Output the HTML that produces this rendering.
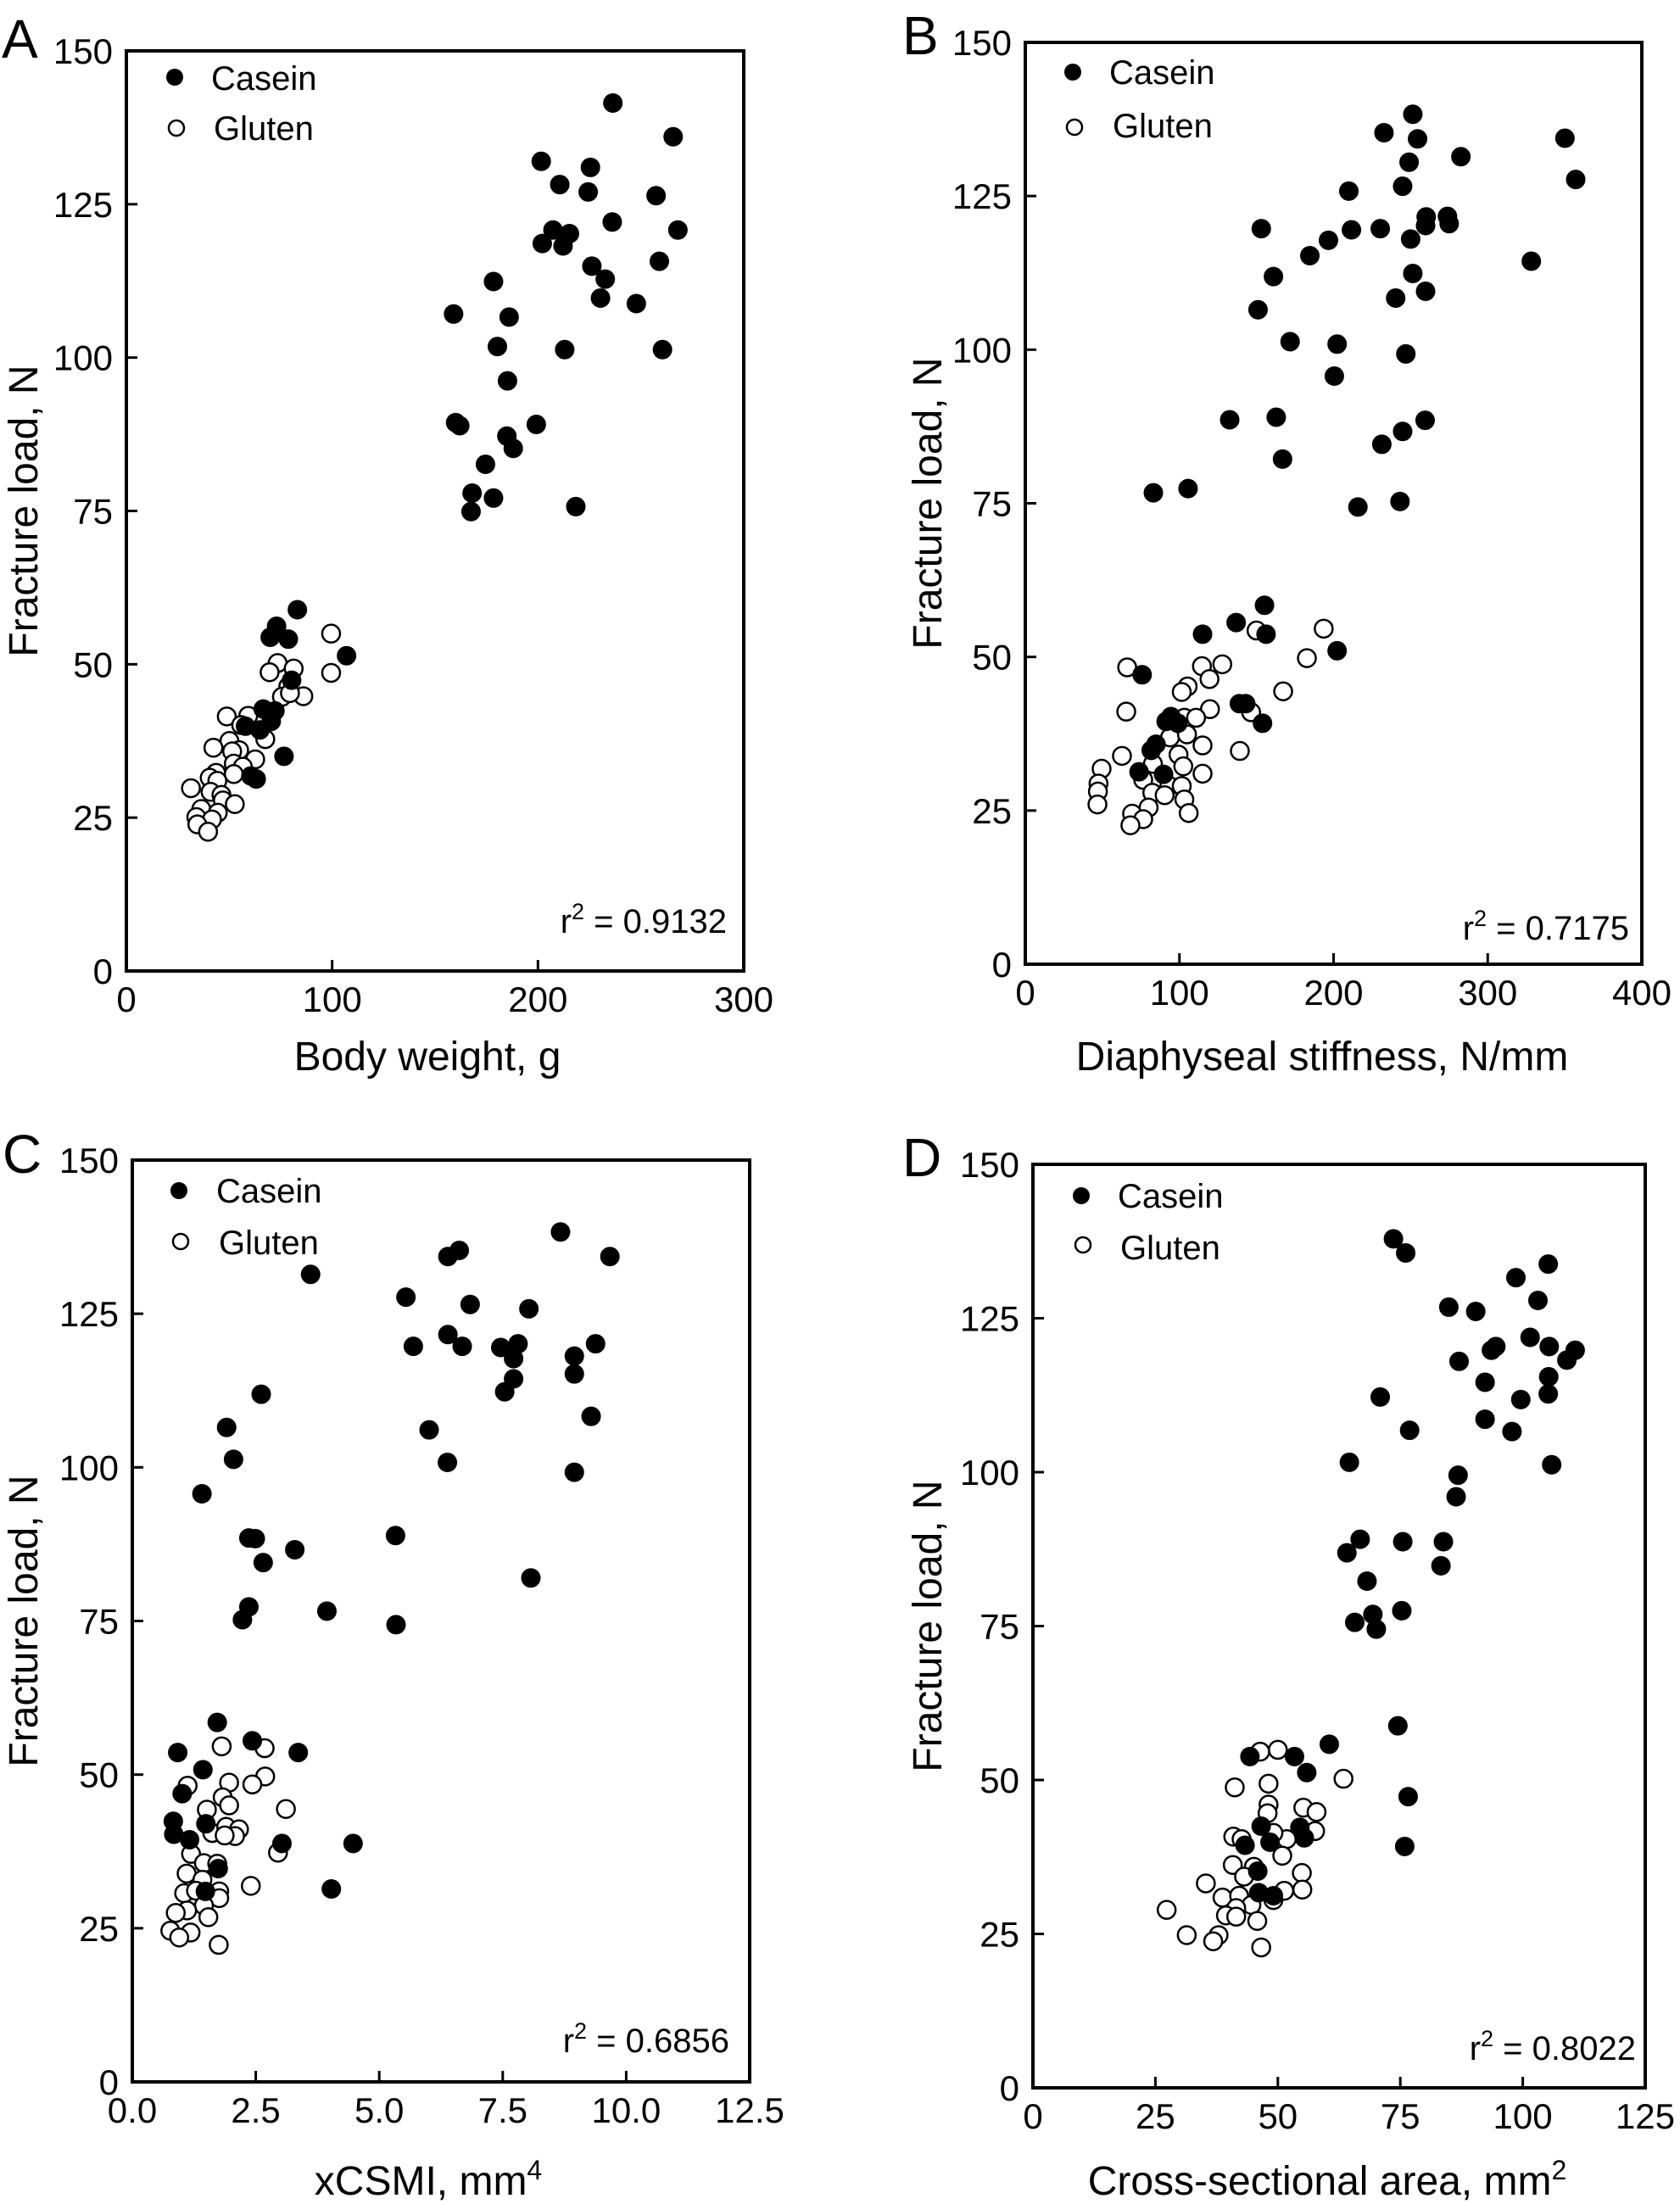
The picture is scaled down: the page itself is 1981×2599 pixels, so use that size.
<!DOCTYPE html>
<html><head><meta charset="utf-8"><style>
html,body{margin:0;padding:0;background:#fff;}
svg{display:block;font-family:"Liberation Sans",Arial,sans-serif;}
</style></head><body>
<svg id="fig" width="1981" height="2599" viewBox="0 0 1981 2599" xmlns="http://www.w3.org/2000/svg"></svg>
<script>
// ---------- Panel A data ----------
const aCaseinX=[236.4,265.7,201.6,225.5,210.6,224.4,257.4,236.1,268,207.3,215.3,202.1,212.2,259,226.2,232.7,178.4,230.4,247.8,159,186,180.3,213,260.5,185.2,160,162,199.2,184.9,188,174.5,168,178.4,167.5,218.4,83.1,73,69.9,78.7,107,80.3,66.5,72.2,70.4,57.9,64.9,76.6,60.5,63.1];
const aCaseinY=[141.5,136,132,131,128.2,127,126.4,122.1,120.8,120.8,120.2,118.6,118.2,115.7,114.9,112.8,112.4,109.7,108.8,107.1,106.6,101.8,101.3,101.3,96.2,89.4,88.9,89.1,87.2,85.2,82.6,77.9,77.1,74.9,75.7,58.9,56.2,54.4,54.1,51.4,47.4,42.7,42.4,40.7,39.9,39.3,35,31.8,31.3];
const aGlutenX=[99.5,73.5,81.3,69.6,99.5,78.7,86,75.6,79.5,48.8,59.2,55.8,67.5,50.1,42.3,54.8,51.4,62.6,52.2,56.6,43.6,52.2,40.5,44.2,31.4,40.9,46.2,46.9,52.7,36.4,44.4,34,41.6,34.5,39.7];
const aGlutenY=[55,50.2,49.3,48.7,48.6,46.4,44.8,44.7,45.3,41.5,41.6,40.1,37.8,37.5,36.4,36,35.8,34.5,33.8,33.3,32.3,32.1,31.5,31,29.8,29.2,28.7,27.8,27.2,26.4,25.8,25.1,24.7,23.9,22.7];
const aXTicks=[0,100,200,300];
const aXTickLabels=["0","100","200","300"];
// ---------- Panel B data ----------
const bCaseinX=[251.4,232.7,350.1,254.5,282.6,249,357.1,244.8,209.9,273.9,260.1,153.1,211.6,230.3,275,259.7,196.7,250,184.6,328.3,161,251.4,240.3,259.7,151,171.8,202.3,246.9,200.5,132.6,162.8,259.4,244.8,231.3,166.9,83.1,105.6,215.8,243.1,155.2,136.8,115,156.2,202.3,75.8,138.9,143,91.4,94.5,99,153.9,84.8,81.7,73.8,89.7];
const bCaseinY=[138.3,135.3,134.4,134.3,131.4,130.5,127.7,126.6,125.8,121.7,121.6,119.7,119.5,119.7,120.5,120.2,117.8,118,115.3,114.4,111.9,112.4,108.4,109.5,106.5,101.3,100.9,99.3,95.7,88.6,89,88.5,86.7,84.6,82.2,76.7,77.4,74.4,75.3,58.4,55.6,53.7,53.7,51,47.1,42.4,42.4,39.5,40.3,39.2,39.2,35.8,34.8,31.3,30.9];
const bGlutenX=[193.6,150,66.1,127.8,114.6,182.7,119.5,105.3,101.5,167.3,119.8,65.5,146.5,103.2,110.8,93.9,115,104.9,62.7,139.2,99.4,82.8,102.5,49.5,115,76.5,47.5,93.5,101.5,47.1,82.4,90.4,103.2,46.8,80,69.3,106,76.5,68.2];
const bGlutenY=[54.6,54.3,48.3,48.8,48.5,49.8,46.4,45.2,44.3,44.4,41.5,41.1,41,40.1,40.1,36.9,35.6,37.4,33.9,34.7,34.1,32.6,32.2,31.8,31,30,29.4,29,29,28.1,27.9,27.5,26.8,26,25.5,24.5,24.6,23.6,22.6];
const bXTicks=[0,100,200,300,400];
const bXTickLabels=["0","100","200","300","400"];
// ---------- Panel C data ----------
const cCaseinX=[8.67,6.62,9.67,6.39,3.61,5.54,6.84,8.03,6.39,9.38,5.69,6.68,7.46,7.81,7.72,8.95,8.95,7.72,7.54,2.61,9.29,6.01,1.91,2.05,6.38,8.95,1.41,5.33,2.36,2.49,3.29,2.65,8.07,2.36,3.94,2.23,5.34,1.72,2.43,3.36,0.92,1.43,1.01,0.83,1.49,0.84,1.16,3.03,4.47,1.74,1.48,4.03];
const cCaseinY=[138.3,135.3,134.3,134.3,131.4,127.7,126.5,125.8,121.6,120.1,119.7,119.7,119.5,120.1,117.7,118.1,115.2,114.4,112.3,111.9,108.3,106.1,106.5,101.3,100.8,99.2,95.7,88.9,88.5,88.4,86.6,84.5,82,77.3,76.6,75.2,74.4,58.5,55.5,53.6,53.6,50.8,46.9,42.4,42,40.3,39.4,38.8,38.8,34.7,31,31.4];
const cGlutenX=[1.81,2.68,2.69,1.96,1.12,2.43,1.83,1.96,3.11,1.51,1.62,1.9,2.16,2.08,1.87,2.95,1.19,1.45,1.72,1.1,1.42,2.4,1.76,1.05,1.29,1.76,1.45,1.11,0.88,1.54,0.77,1.18,0.95,1.75];
const cGlutenY=[54.6,54.3,49.7,48.7,48.2,48.4,46.3,45,44.4,44.3,40.5,41.5,41.1,40,40.1,37.3,37.1,35.6,35.5,33.9,32.9,31.9,31,30.7,31.1,29.9,28.7,27.9,27.5,26.8,24.6,24.3,23.5,22.3];
const cXTicks=[0,2.5,5,7.5,10,12.5];
const cXTickLabels=["0.0","2.5","5.0","7.5","10.0","12.5"];
// ---------- Panel D data ----------
const dCaseinX=[73.6,76.1,105.2,98.6,103.1,84.9,90.4,101.5,94.5,93.6,105.4,110.7,87,109,105.3,92.3,70.9,105.2,99.6,92.3,97.8,76.9,64.6,105.9,86.8,86.4,66.8,75.5,83.8,64.1,83.3,68.2,69.4,75.3,65.7,70.1,74.5,60.5,44.3,53.4,55.9,76.6,46.6,54.5,55.4,43.3,48.4,75.9,45.9,46.1,49.1];
const dCaseinY=[137.9,135.6,133.8,131.6,127.9,126.8,126.1,121.9,120.4,119.8,120.4,119.8,118,118.2,115.5,114.6,112.2,112.7,111.8,108.6,106.6,106.8,101.6,101.2,99.5,96,89.1,88.7,88.7,86.9,84.8,82.3,76.9,77.5,75.6,74.5,58.8,55.8,53.8,53.8,51.2,47.3,42.5,42.3,40.6,39.4,39.9,39.2,35.2,31.7,31.2];
const dGlutenX=[50,46.4,63.4,48.1,41.2,48.1,55.2,57.9,47.9,40.9,42.6,51.8,57.6,49.1,50.9,40.8,45.1,43.1,35.3,54.9,55,51.3,38.7,42.1,44.6,41.5,49.1,27.3,39.4,41.5,45.8,31.4,37.9,36.8,46.6];
const dGlutenY=[54.9,54.6,50.2,49.4,48.8,46,45.5,44.8,44.6,40.8,40.4,40.4,41.7,41.4,37.7,36.2,35.9,34.3,33.2,34.9,32.2,32,30.9,31.2,29.7,29.2,30.5,28.9,28,27.8,27.1,24.8,24.8,23.8,22.8];
const dXTicks=[0,25,50,75,100,125];
const dXTickLabels=["0","25","50","75","100","125"];
// ---------- shared y axis ----------
const yTicks=[0,25,50,75,100,125,150];
const yTickLabels=["0","25","50","75","100","125","150"];

const NS="http://www.w3.org/2000/svg";
const svg=document.getElementById('fig');
function mk(tag,attrs,parent){const e=document.createElementNS(NS,tag);for(const k in attrs)e.setAttribute(k,attrs[k]);(parent||svg).appendChild(e);return e;}

const panels=[
 {id:'a',letter:'A',lx:2,ly:68,box:[149,60,877,1145],xmax:300,xt:aXTicks,xl:aXTickLabels,cx:aCaseinX,cy:aCaseinY,gx:aGlutenX,gy:aGlutenY,
  leg:[206,91,249,106,208,151,252,165],r2:'0.9132',r2x:857,r2y:1100,ytx:44,xtitle:'Body weight, g',xtx:504,xty:1262,sup:null},
 {id:'b',letter:'B',lx:1064,ly:64,box:[1209,50,1936,1137],xmax:400,xt:bXTicks,xl:bXTickLabels,cx:bCaseinX,cy:bCaseinY,gx:bGlutenX,gy:bGlutenY,
  leg:[1265,85,1308,99,1267,150,1312,162],r2:'0.7175',r2x:1921,r2y:1108,ytx:1110,xtitle:'Diaphyseal stiffness, N/mm',xtx:1559,xty:1262,sup:null},
 {id:'c',letter:'C',lx:3,ly:1383,box:[156,1368,884,2455],xmax:12.5,xt:cXTicks,xl:cXTickLabels,cx:cCaseinX,cy:cCaseinY,gx:cGlutenX,gy:cGlutenY,
  leg:[211,1404,255,1418,213,1464,258,1479],r2:'0.6856',r2x:860,r2y:2420,ytx:44,xtitle:'xCSMI, mm',xtx:505,xty:2588,sup:'4'},
 {id:'d',letter:'D',lx:1064,ly:1387,box:[1218,1373,1940,2462],xmax:125,xt:dXTicks,xl:dXTickLabels,cx:dCaseinX,cy:dCaseinY,gx:dGlutenX,gy:dGlutenY,
  leg:[1275,1410,1318,1424,1277,1468,1321,1485],r2:'0.8022',r2x:1929,r2y:2429,ytx:1110,xtitle:'Cross-sectional area, mm',xtx:1565,xty:2588,sup:'2'}
];

panels.forEach(p=>{
  const g=mk('g',{});
  
  
  const [x0,y0,x1,y1]=p.box;
  const sx=v=>x0+(v/p.xmax)*(x1-x0);
  const sy=v=>y1-(v/150)*(y1-y0);
  const L=mk('text',{x:p.lx,y:p.ly,'font-size':64},g);L.textContent=p.letter;
  
  
  const fr=mk('rect',{x:x0,y:y0,width:x1-x0,height:y1-y0,fill:'none',stroke:'#000','stroke-width':4},g);
  
  
  yTicks.forEach((v,i)=>{
    const t=mk('line',{x1:x0,x2:x0+13,y1:sy(v),y2:sy(v),stroke:'#000','stroke-width':3},g);
    
    
    const l=mk('text',{x:x0-16,y:sy(v)+15,'font-size':42,'text-anchor':'end'},g);l.textContent=yTickLabels[i];
    
    
  });
  p.xt.forEach((v,i)=>{
    const t=mk('line',{x1:sx(v),x2:sx(v),y1:y1,y2:y1-13,stroke:'#000','stroke-width':3},g);
    
    
    const l=mk('text',{x:sx(v),y:y1+48,'font-size':42,'text-anchor':'middle'},g);l.textContent=p.xl[i];
    
    
  });
  const yc=(y0+y1)/2;
  const yt=mk('text',{x:p.ytx,y:yc,'font-size':48,'text-anchor':'middle',transform:`rotate(-90 ${p.ytx} ${yc})`},g);
  yt.textContent='Fracture load, N';
  
  
  const xt=mk('text',{x:p.xtx,y:p.xty,'font-size':48,'text-anchor':'middle'},g);
  xt.textContent=p.xtitle;
  if(p.sup){const s=mk('tspan',{dy:-18,'font-size':32},xt);s.textContent=p.sup;}
  
  
  const r=mk('text',{x:p.r2x,y:p.r2y,'font-size':40,'text-anchor':'end'},g);
  const t1=mk('tspan',{},r);t1.textContent='r';
  const t2=mk('tspan',{dy:-16,'font-size':27},r);t2.textContent='2';
  const t3=mk('tspan',{dy:16},r);t3.textContent=' = '+p.r2;
  
  
  p.gx.forEach((v,i)=>{
    const c=mk('circle',{cx:sx(v),cy:sy(p.gy[i]),r:10.5,fill:'#fff',stroke:'#000','stroke-width':2.5},g);
    
    
  });
  p.cx.forEach((v,i)=>{
    const c=mk('circle',{cx:sx(v),cy:sy(p.cy[i]),r:11,fill:'#000',stroke:'#000','stroke-width':1},g);
    
    
  });
  const [cmx,cmy,ctx,cty,gmx,gmy,gtx,gty]=p.leg;
  const lc=mk('circle',{cx:cmx,cy:cmy,r:10,fill:'#000'},g);
  
  
  const lct=mk('text',{x:ctx,y:cty,'font-size':40},g);lct.textContent='Casein';
  
  
  const lg=mk('circle',{cx:gmx,cy:gmy,r:9,fill:'#fff',stroke:'#000','stroke-width':2.5},g);
  
  
  const lgt=mk('text',{x:gtx,y:gty,'font-size':40},g);lgt.textContent='Gluten';
  
  
});
</script>
</body></html>
